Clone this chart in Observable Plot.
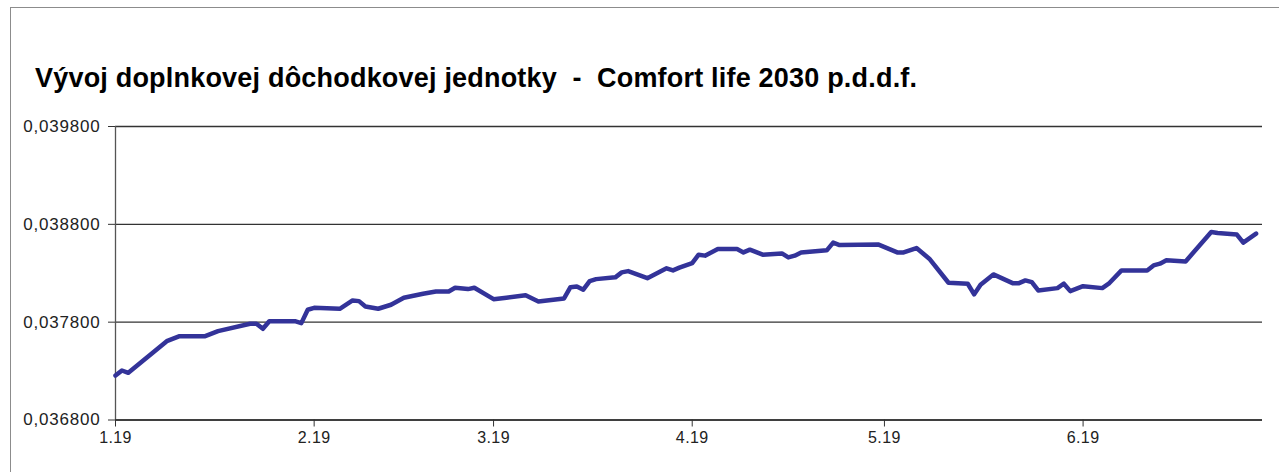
<!DOCTYPE html>
<html>
<head>
<meta charset="utf-8">
<script src="https://cdn.jsdelivr.net/npm/d3@7"></script>
<script src="https://cdn.jsdelivr.net/npm/@observablehq/plot@0.6"></script>
<style>
  html, body { margin: 0; padding: 0; background: #fff; }
  body { width: 1279px; height: 472px; position: relative; overflow: hidden; font-family: "Liberation Sans", Arial, sans-serif; }
  #frame { position: absolute; left: 10px; top: 7px; width: 1300px; height: 500px; border-left: 1px solid #8c8c8c; border-top: 1px solid #8c8c8c; pointer-events: none; }
  #title { height: 110px; position: relative; }
  #title span { position: absolute; left: 35px; top: 63px; font-size: 27px; letter-spacing: 0.2px; font-weight: bold; color: #000; white-space: pre; }
  #chart svg g[aria-label="y-axis tick label"] text { font-size: 17px; letter-spacing: 0.8px; }
  #chart svg g[aria-label="x-axis tick label"] text { font-size: 16px; letter-spacing: 0.4px; }
</style>
</head>
<body>
<div id="frame"></div>
<div id="title"><span>Vývoj doplnkovej dôchodkovej jednotky  -  Comfort life 2030 p.d.d.f.</span></div>
<div id="chart"></div>
<script>
const dates = [
  "2019-01-01","2019-01-02","2019-01-03","2019-01-09","2019-01-11","2019-01-15","2019-01-17","2019-01-22",
  "2019-01-23","2019-01-24","2019-01-25","2019-01-29","2019-01-30","2019-01-31","2019-02-01","2019-02-05",
  "2019-02-07","2019-02-08","2019-02-09","2019-02-11","2019-02-13","2019-02-15","2019-02-18","2019-02-20",
  "2019-02-22","2019-02-23","2019-02-25","2019-02-26","2019-03-01","2019-03-03","2019-03-06","2019-03-08",
  "2019-03-12","2019-03-13","2019-03-14","2019-03-15","2019-03-16","2019-03-17","2019-03-20","2019-03-21",
  "2019-03-22","2019-03-25","2019-03-28","2019-03-29","2019-03-30","2019-04-01","2019-04-02","2019-04-03",
  "2019-04-05","2019-04-08","2019-04-09","2019-04-10","2019-04-12","2019-04-15","2019-04-16","2019-04-17",
  "2019-04-18","2019-04-22","2019-04-23","2019-04-24","2019-04-30","2019-05-03","2019-05-04","2019-05-06",
  "2019-05-08","2019-05-11","2019-05-14","2019-05-15","2019-05-16","2019-05-18","2019-05-21","2019-05-22",
  "2019-05-23","2019-05-24","2019-05-25","2019-05-28","2019-05-29","2019-05-30","2019-06-01","2019-06-04",
  "2019-06-05","2019-06-07","2019-06-11","2019-06-12","2019-06-13","2019-06-14","2019-06-17","2019-06-21",
  "2019-06-22","2019-06-25","2019-06-26","2019-06-28"
];
const values = [
  0.037254,0.037306,0.037282,0.037606,0.037657,0.037657,0.037708,0.037784,
  0.037784,0.037732,0.037810,0.037810,0.037790,0.037927,0.037947,0.037937,
  0.038022,0.038015,0.037961,0.037937,0.037978,0.038050,0.038091,0.038114,
  0.038114,0.038152,0.038138,0.038152,0.038035,0.038050,0.038076,0.038012,
  0.038043,0.038158,0.038165,0.038132,0.038220,0.038240,0.038258,0.038309,
  0.038322,0.038250,0.038350,0.038329,0.038357,0.038404,0.038490,0.038480,
  0.038547,0.038547,0.038513,0.038541,0.038490,0.038503,0.038462,0.038480,
  0.038513,0.038534,0.038613,0.038588,0.038595,0.038513,0.038513,0.038557,
  0.038449,0.038203,0.038193,0.038084,0.038183,0.038288,0.038199,0.038199,
  0.038227,0.038210,0.038124,0.038148,0.038193,0.038117,0.038168,0.038148,
  0.038193,0.038329,0.038329,0.038380,0.038398,0.038432,0.038421,0.038721,
  0.038711,0.038695,0.038613,0.038705
];
const yTicks = [0.0368, 0.0378, 0.0388, 0.0398];
const xTickDates = ["2019-01-01","2019-02-01","2019-03-01","2019-04-01","2019-05-01","2019-06-01"];
const xTickLabels = ["1.19","2.19","3.19","4.19","5.19","6.19"];
const xDomain = ["2019-01-01","2019-06-29"];

const data = dates.map((d, i) => ({date: new Date(d), value: values[i]}));
const tickDates = xTickDates.map(d => new Date(d));
const fmtY = d => d3.format(".6f")(d).replace(".", ",");
const fmtX = d => xTickLabels[tickDates.findIndex(t => +t === +d)];

const chart = Plot.plot({
  width: 1279,
  height: 362,
  marginTop: 16,
  marginBottom: 52.5,
  marginLeft: 115,
  marginRight: 17,
  style: {fontFamily: "'Liberation Sans', Arial, sans-serif", fontSize: "15px", color: "#222", background: "transparent"},
  x: {type: "utc", domain: xDomain.map(d => new Date(d)), label: null},
  y: {domain: [0.0368, 0.0398], label: null},
  marks: [
    Plot.gridY(yTicks, {stroke: "#333", strokeOpacity: 1, strokeWidth: 1.3}),
    Plot.ruleX([new Date(xDomain[0])], {stroke: "#555", strokeWidth: 1.3}),
    Plot.ruleY([0.0368], {stroke: "#333", strokeWidth: 1.3}),
    Plot.axisY({ticks: yTicks, tickFormat: fmtY, tickSize: 7, tickPadding: 8, stroke: "#333", fill: "#222", ariaLabel: "y-axis"}),
    Plot.axisX({ticks: tickDates, tickFormat: fmtX, tickSize: 7, tickPadding: 5, stroke: "#333", fill: "#222", ariaLabel: "x-axis"}),
    Plot.line(data, {x: "date", y: "value", stroke: "#333399", strokeWidth: 4.5, strokeLinejoin: "round", strokeLinecap: "round"})
  ]
});
document.getElementById("chart").appendChild(chart);
</script>
</body>
</html>
